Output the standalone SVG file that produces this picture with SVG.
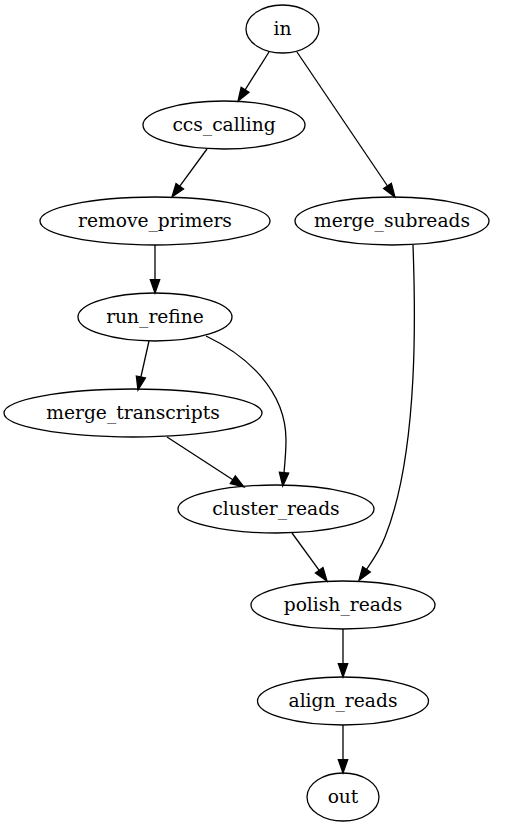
<svg xmlns="http://www.w3.org/2000/svg" width="532" height="827" viewBox="0 0 532 827">
<style>
.node ellipse{fill:none;stroke:#000;stroke-width:1.3}
.node text{text-anchor:middle;fill:#000}
.edge{fill:none;stroke:#000;stroke-width:1.3;marker-end:url(#arr)}
</style>
<defs>
<marker id="arr" markerUnits="userSpaceOnUse" markerWidth="14" markerHeight="10" refX="0" refY="5" orient="auto" overflow="visible">
<path d="M0,0.33 L13.3,5 L0,9.67 z" fill="#000" stroke="#000" stroke-width="1.3"/>
</marker>
</defs>
<rect width="532" height="827" fill="#fff"/>
<g id="connectors">
<path class="edge" d="M269,52 L245.1,89.8"/>
<path class="edge" d="M297,52 L387.5,186"/>
<path class="edge" d="M207,149 L179.8,186.2"/>
<path class="edge" d="M155,245 L155,279.7"/>
<path class="edge" d="M413,245 C415,300 420,450 385,537 C380,550 373,560 366.5,569.4"/>
<path class="edge" d="M149,341 L140.9,377"/>
<path class="edge" d="M206,336 C246,355 286,390 286,440 C286,452 285,462 284,472.7"/>
<path class="edge" d="M167,437 L232.8,479.7"/>
<path class="edge" d="M292,533 L319.2,570.3"/>
<path class="edge" d="M343,629 L343,663.7"/>
<path class="edge" d="M343,725 L343,759.7"/>
</g>
<g font-family="DejaVu Serif, Liberation Serif, serif" font-size="18.67">
<g id="in" class="node"><ellipse cx="282.5" cy="29" rx="36.5" ry="24"/><text x="282.5" y="34.6">in</text></g>
<g id="ccs_calling" class="node"><ellipse cx="224" cy="125" rx="81" ry="24"/><text x="224" y="130.6">ccs_calling</text></g>
<g id="remove_primers" class="node"><ellipse cx="155" cy="221" rx="115" ry="24"/><text x="155" y="226.6">remove_primers</text></g>
<g id="merge_subreads" class="node"><ellipse cx="392" cy="221" rx="97" ry="24"/><text x="392" y="226.6">merge_subreads</text></g>
<g id="run_refine" class="node"><ellipse cx="155" cy="317" rx="77" ry="24"/><text x="155" y="322.6">run_refine</text></g>
<g id="merge_transcripts" class="node"><ellipse cx="133" cy="413" rx="129" ry="24"/><text x="133" y="418.6">merge_transcripts</text></g>
<g id="cluster_reads" class="node"><ellipse cx="276" cy="509" rx="98" ry="24"/><text x="276" y="514.6">cluster_reads</text></g>
<g id="polish_reads" class="node"><ellipse cx="343" cy="605" rx="92" ry="24"/><text x="343" y="610.6">polish_reads</text></g>
<g id="align_reads" class="node"><ellipse cx="343" cy="701" rx="85.5" ry="24"/><text x="343" y="706.6">align_reads</text></g>
<g id="out" class="node"><ellipse cx="343" cy="797" rx="36" ry="24"/><text x="343" y="802.6">out</text></g>
</g>
</svg>
